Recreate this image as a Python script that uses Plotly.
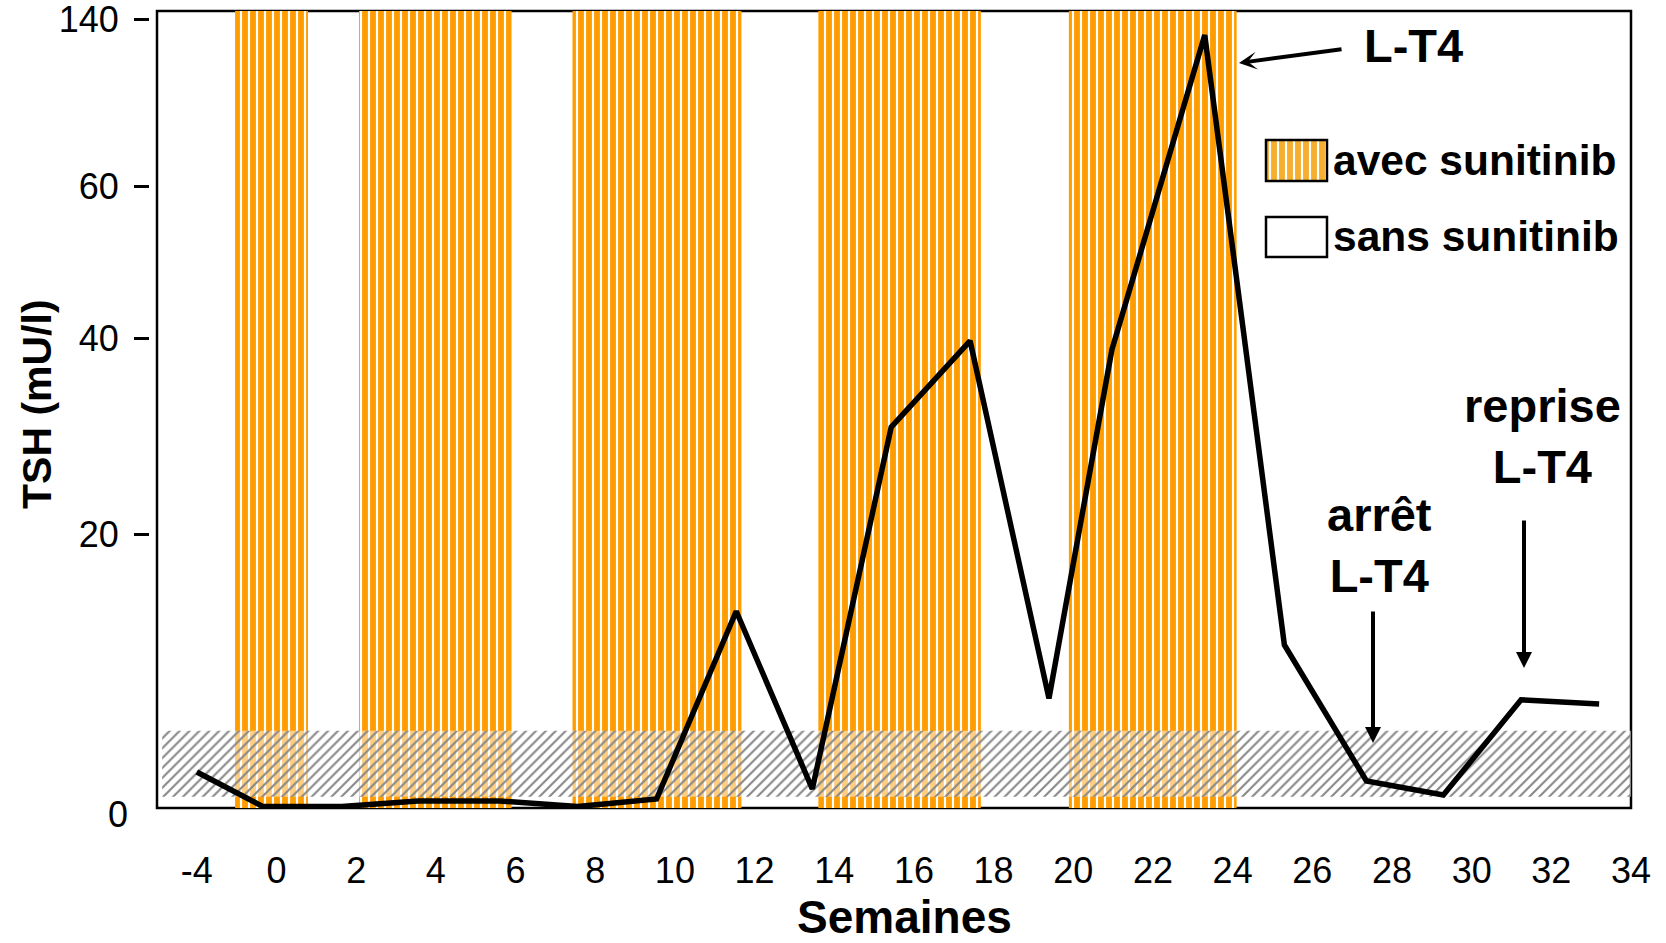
import numpy as np
import plotly.graph_objects as go

# ---------------- data ----------------
# x axis: weeks (axis is broken between -4 and 0: the "-4" label sits at position -2)
week_ticks = [-2, 0, 2, 4, 6, 8, 10, 12, 14, 16, 18, 20, 22, 24, 26, 28, 30, 32, 34]
week_labels = ["-4", "0", "2", "4", "6", "8", "10", "12", "14", "16", "18",
               "20", "22", "24", "26", "28", "30", "32", "34"]

# y axis: non-linear TSH scale (mU/l) -> axis units
tsh_ticks = [0, 20, 40, 60, 140]
tsh_tick_pos = [0, 281, 477, 629, 796]

# TSH measurements
tsh_weeks = [-2, -0.34, 1.64, 3.55, 5.6, 7.56, 9.54, 11.54, 13.45, 15.43, 17.41,
             19.39, 20.97, 23.30, 25.3, 27.36, 29.29, 31.24, 33.2]
tsh_values = [3.06, 0.6, 0.6, 1.0, 1.0, 0.6, 1.14, 14.5, 1.85, 30.9, 39.7,
              8.3, 38.8, 132.3, 12.1, 2.42, 1.42, 8.2, 7.9]

# periods with sunitinib (start, end in weeks)
sunitinib_start = [-1.04, 2.07, 7.43, 13.60, 19.89]
sunitinib_end = [0.79, 5.90, 11.67, 17.68, 24.10]

# normal TSH range (hatched band)
normal_low, normal_high = 1.3, 6.0
normal_x = [-2.87, 34.0]

ORANGE = "#FF9C00"
LEG_ORANGE = "#F6AE2D"
FONT = "Liberation Sans, Arial, sans-serif"


def yv(v):
    return np.interp(v, tsh_ticks, tsh_tick_pos)


# layout geometry helpers (pixels -> paper)
ML, MR, MT, MB = 149, 35, 11, 135
W, H = 1666, 943
PW, PH = W - ML - MR, H - MT - MB


def px(x):
    return (x - ML) / PW


def py(y):
    return (H - MB - y) / PH


fig = go.Figure()

# sunitinib bands
s = np.array(sunitinib_start)
e = np.array(sunitinib_end)
fig.add_trace(go.Bar(
    x=(s + e) / 2, width=e - s, base=[-10] * len(s), y=[830] * len(s),
    marker=dict(color=ORANGE, line=dict(width=0),
                pattern=dict(shape="|", bgcolor=ORANGE, fgcolor="white",
                             size=8, solidity=0.27, fillmode="replace")),
    showlegend=False, hoverinfo="skip"))

# normal range hatched band
lo, hi = yv(normal_low), yv(normal_high)
fig.add_trace(go.Bar(
    x=[(normal_x[0] + normal_x[1]) / 2], width=[normal_x[1] - normal_x[0]],
    base=[lo], y=[hi - lo],
    marker=dict(color="rgba(255,255,255,0.5)", line=dict(width=0),
                pattern=dict(shape="/", bgcolor="rgba(255,255,255,0.5)",
                             fgcolor="#888888", size=7, solidity=0.3,
                             fillmode="replace")),
    showlegend=False, hoverinfo="skip"))

# TSH curve
fig.add_trace(go.Scatter(
    x=tsh_weeks, y=yv(tsh_values), mode="lines",
    line=dict(color="black", width=5.5), showlegend=False, hoverinfo="skip"))

# legend swatch (striped) on an overlay axis
fig.add_trace(go.Bar(
    x=[0], y=[1], width=[1], base=[0], xaxis="x2", yaxis="y2",
    marker=dict(color=LEG_ORANGE, line=dict(width=0),
                pattern=dict(shape="|", bgcolor=LEG_ORANGE, fgcolor="white",
                             size=8, solidity=0.27, fillmode="replace")),
    showlegend=False, hoverinfo="skip"))

x0dom = 8 / PW
fig.update_layout(
    width=W, height=H,
    margin=dict(l=ML, r=MR, t=MT, b=MB),
    plot_bgcolor="white", paper_bgcolor="white",
    barmode="overlay",
    font=dict(family=FONT, color="black"),
    xaxis=dict(domain=[x0dom, 1], range=[-3.0, 34.0], tickvals=week_ticks,
               ticktext=week_labels, ticks="", showline=False, showgrid=False,
               zeroline=False, automargin=False,
               tickfont=dict(size=36, family=FONT, color="black"),
               ticklabelstandoff=38, ticklabeloverflow="allow"),
    yaxis=dict(anchor="free", position=0, range=[7, 804],
               tickvals=tsh_tick_pos[1:], ticktext=[str(v) for v in tsh_ticks[1:]],
               ticks="outside", ticklen=15, tickwidth=3, tickcolor="black",
               showline=False, showgrid=False, zeroline=False, automargin=False,
               tickfont=dict(size=36, family=FONT, color="black"),
               ticklabelstandoff=8, ticklabeloverflow="allow"),
    xaxis2=dict(domain=[px(1266), px(1327)], anchor="y2", range=[-0.5, 0.5],
                visible=False),
    yaxis2=dict(domain=[py(181), py(140)], anchor="x2", range=[0, 1],
                visible=False),
)

shapes = [
    dict(type="rect", xref="paper", yref="paper", x0=x0dom, x1=1, y0=0, y1=1,
         line=dict(color="black", width=2.5), layer="below"),
    dict(type="rect", xref="paper", yref="paper", x0=px(1266), x1=px(1327),
         y0=py(181), y1=py(140), line=dict(color="black", width=2.5)),
    dict(type="rect", xref="paper", yref="paper", x0=px(1266), x1=px(1327),
         y0=py(257), y1=py(217), line=dict(color="black", width=2.5),
         fillcolor="white"),
]
fig.update_layout(shapes=shapes)

bold = dict(family=FONT, color="black", weight="bold")


def label(text, x, y, size, xanchor="center", **kw):
    d = dict(text=text, xref="paper", yref="paper", x=px(x), y=py(y),
             xanchor=xanchor, yanchor="middle", showarrow=False,
             font=dict(size=size, **bold))
    d.update(kw)
    return d


ann = [
    dict(text="0", xref="paper", yref="paper", x=0, y=py(815), xanchor="right",
         yanchor="middle", xshift=-19, showarrow=False,
         font=dict(family=FONT, size=36, color="black")),
    label("TSH (mU/l)", 37, 404, 41, textangle=-90),
    label("Semaines", 904, 917, 46),
    label("avec sunitinib", 1331, 161, 42.5, xanchor="left"),
    label("sans sunitinib", 1331, 236, 42.5, xanchor="left"),
    label("L-T4", 1413, 45, 47),
    label("reprise<br>L-T4", 1542, 436, 47),
    label("arrêt<br>L-T4", 1379, 545, 47),
    # arrows
    dict(text="", xref="paper", yref="paper", x=px(1239), y=py(63),
         ax=104, ay=-14, showarrow=True,
         arrowhead=3, arrowsize=0.75, arrowwidth=4, arrowcolor="black"),
    dict(text="", xref="paper", yref="paper", x=px(1373), y=py(743),
         ax=0, ay=-133, showarrow=True,
         arrowhead=2, arrowsize=0.8, arrowwidth=4, arrowcolor="black"),
    dict(text="", xref="paper", yref="paper", x=px(1524), y=py(668),
         ax=0, ay=-149, showarrow=True,
         arrowhead=2, arrowsize=0.8, arrowwidth=4, arrowcolor="black"),
]
fig.update_layout(annotations=ann)

fig.write_html("out.html", config={"displayModeBar": False},
               post_script="document.body.style.margin='0';")
